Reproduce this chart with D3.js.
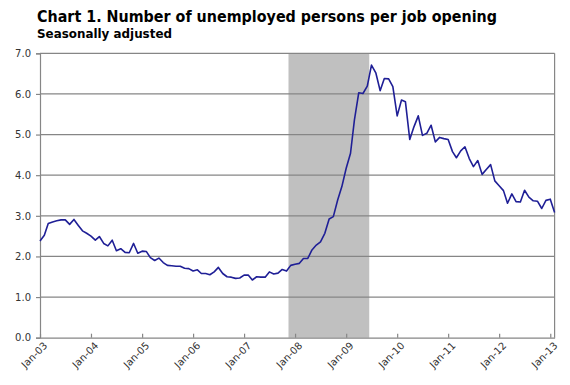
<!DOCTYPE html>
<html>
<head>
<meta charset="utf-8">
<script src="https://cdn.jsdelivr.net/npm/d3@7"></script>
<style>
  body { margin: 0; background: #fff; }
  svg text { font-family: "DejaVu Sans", Verdana, sans-serif; }
  .grid line { stroke: #868686; stroke-width: 1.2; }
  .axis path, .axis line { stroke: #868686; stroke-width: 1.2; }
  .axis text { fill: #333; font-size: 10px; }
</style>
</head>
<body>
<svg id="chart" width="570" height="385"></svg>
<script>
// monthly ratio, Jan 2003 .. Feb 2013
var startMonth = "2003-01";
var ratio = [
  2.38, 2.52, 2.81, 2.85, 2.88, 2.90, 2.90, 2.79, 2.91, 2.77, 2.63, 2.57,
  2.50, 2.40, 2.49, 2.32, 2.26, 2.40, 2.14, 2.19, 2.10, 2.09, 2.32, 2.08,
  2.13, 2.12, 1.97, 1.90, 1.96, 1.85, 1.78, 1.77, 1.76, 1.76, 1.71, 1.70,
  1.64, 1.67, 1.58, 1.58, 1.55, 1.62, 1.73, 1.58, 1.50, 1.49, 1.46, 1.47,
  1.54, 1.54, 1.42, 1.50, 1.49, 1.49, 1.62, 1.57, 1.59, 1.68, 1.64, 1.78,
  1.81, 1.83, 1.95, 1.95, 2.16, 2.28, 2.36, 2.57, 2.92, 2.98, 3.39, 3.72,
  4.17, 4.54, 5.36, 6.03, 6.01, 6.19, 6.71, 6.52, 6.08, 6.38, 6.37, 6.18,
  5.46, 5.85, 5.81, 4.88, 5.19, 5.46, 4.98, 5.03, 5.23, 4.82, 4.93, 4.90,
  4.88, 4.58, 4.43, 4.60, 4.70, 4.41, 4.21, 4.36, 4.02, 4.14, 4.26, 3.86,
  3.74, 3.62, 3.31, 3.54, 3.35, 3.34, 3.63, 3.46, 3.37, 3.36, 3.18, 3.38,
  3.41, 3.08
];
var recession = ["2007-11-15", "2009-06-15"];
var yTicks = [0, 1, 2, 3, 4, 5, 6, 7];
var xTickYears = [2003, 2004, 2005, 2006, 2007, 2008, 2009, 2010, 2011, 2012, 2013];

var parseMonth = d3.timeParse("%Y-%m"),
    parseDay = d3.timeParse("%Y-%m-%d"),
    t0 = parseMonth(startMonth);

var data = ratio.map(function(v, i) { return { date: d3.timeMonth.offset(t0, i), value: v }; });

var svg = d3.select("#chart");
var plotLeft = 40, plotRight = 554.6, plotTop = 53.3, plotBottom = 337.7;

var x = d3.scaleTime()
    .domain([data[0].date, data[data.length - 1].date])
    .range([plotLeft, plotRight]);
var y = d3.scaleLinear().domain([0, 7]).range([plotBottom, plotTop]);

// title
svg.append("text").attr("x", 37).attr("y", 22)
    .style("font-size", "15px").style("font-weight", "bold").attr("fill", "#000")
    .attr("textLength", 460).attr("lengthAdjust", "spacingAndGlyphs")
    .text("Chart 1. Number of unemployed persons per job opening");
svg.append("text").attr("x", 37).attr("y", 37.5)
    .style("font-size", "12.5px").style("font-weight", "bold").attr("fill", "#000")
    .attr("textLength", 135).attr("lengthAdjust", "spacingAndGlyphs")
    .text("Seasonally adjusted");

// recession shading
svg.append("rect")
    .attr("x", x(parseDay(recession[0])))
    .attr("y", plotTop)
    .attr("width", x(parseDay(recession[1])) - x(parseDay(recession[0])))
    .attr("height", plotBottom - plotTop)
    .attr("fill", "#c0c0c0");

// gridlines
svg.append("g").attr("class", "grid")
    .selectAll("line").data(yTicks.filter(function(d) { return d > 0; }))
    .enter().append("line")
    .attr("x1", plotLeft).attr("x2", plotRight)
    .attr("y1", function(d) { return y(d); })
    .attr("y2", function(d) { return y(d); });

// right border
svg.append("line").attr("x1", plotRight).attr("x2", plotRight).attr("y1", plotTop).attr("y2", plotBottom)
    .attr("stroke", "#868686").attr("stroke-width", 1.2);

// y axis
svg.append("g").attr("class", "axis")
    .attr("transform", "translate(" + plotLeft + ",0)")
    .call(d3.axisLeft(y).tickValues(yTicks).tickSize(4).tickPadding(5).tickFormat(d3.format(".1f")));

// x axis
var xAxis = svg.append("g").attr("class", "axis")
    .attr("transform", "translate(0," + plotBottom + ")")
    .call(d3.axisBottom(x)
        .tickValues(xTickYears.map(function(yr) { return new Date(yr, 0, 1); }))
        .tickSizeInner(-4).tickSizeOuter(0)
        .tickFormat(d3.timeFormat("%b-%y")));
xAxis.selectAll("text")
    .attr("text-anchor", "end")
    .attr("x", 0).attr("y", 0).attr("dx", 0).attr("dy", "0.35em")
    .attr("transform", "translate(5,6) rotate(-45)");

// series line
var line = d3.line()
    .x(function(d) { return x(d.date); })
    .y(function(d) { return y(d.value); });

svg.append("path").datum(data)
    .attr("d", line)
    .attr("fill", "none")
    .attr("stroke", "#1f1f96")
    .attr("stroke-width", 1.6)
    .attr("stroke-linejoin", "round");
</script>
</body>
</html>
